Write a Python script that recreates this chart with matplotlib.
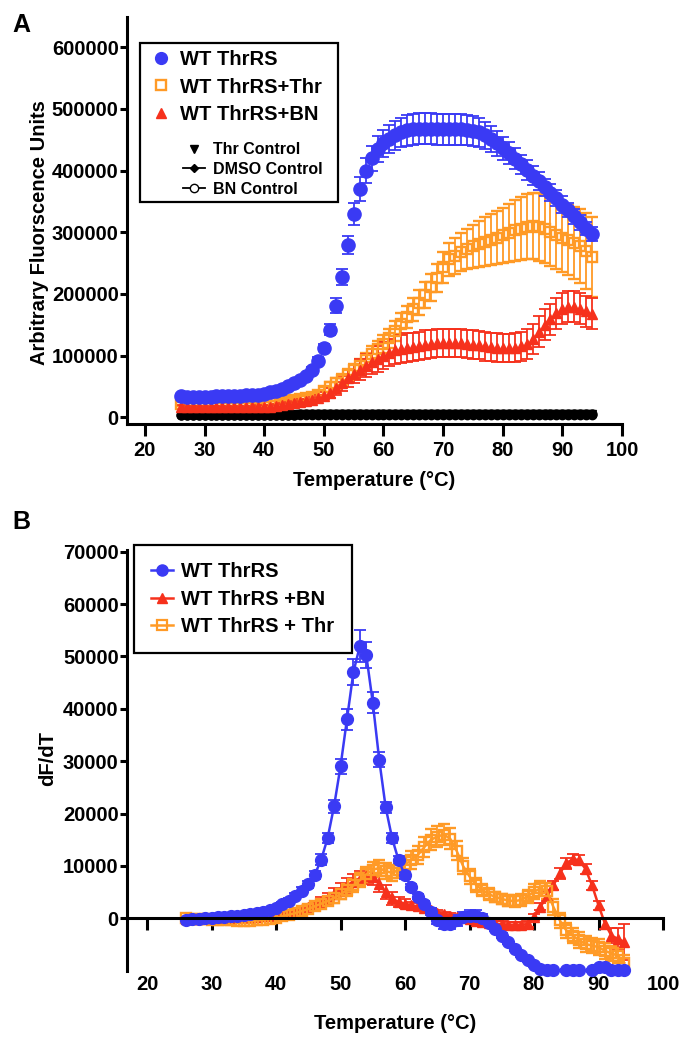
import numpy as np
import matplotlib
matplotlib.use("Agg")
import matplotlib.pyplot as plt
from matplotlib.lines import Line2D
from matplotlib.patches import Rectangle
from matplotlib.ticker import FormatStrFormatter

plt.rcParams['font.family'] = ['Liberation Sans', 'DejaVu Sans']
plt.rcParams['font.weight'] = 'bold'
plt.rcParams['axes.labelweight'] = 'bold'

BLUE = '#3a3af4'
ORANGE = '#ff9a26'
RED = '#f6311c'
nan = np.nan

# ---------------- panel A : raw fluorescence, 26..95 C ----------------
temp_a = np.arange(26, 96)

wt_a = [34000, 33500, 33500, 33500, 33500, 33500, 33800, 34000, 34000, 34500,
        35000, 35500, 36000, 37000, 38500, 40500, 43000, 46000, 50000, 55000,
        61000, 67000, 77000, 92000, 113000, 142000, 181000, 228000, 279000, 329000,
        370000, 400000, 420000, 435000, 444000, 451000, 457000, 462000, 465000, 467000,
        468000, 468000, 468000, 467000, 467000, 467000, 467000, 467000, 466000, 464000,
        462000, 457000, 451000, 444000, 436000, 428000, 419000, 410000, 401000, 392000,
        383000, 373000, 364000, 355000, 345000, 336000, 326000, 316000, 306000, 297000]
wt_a_err = [1500, 1500, 1500, 1500, 1500, 1500, 1500, 1500, 1500, 1500,
            1500, 1500, 1500, 1500, 1500, 1500, 2000, 2000, 2000, 2500,
            2500, 3000, 4000, 5000, 6000, 9000, 12000, 13000, 15000, 18000,
            20000, 20000, 20000, 21000, 22000, 23000, 24000, 24000, 25000, 25000,
            25000, 25000, 25000, 25000, 25000, 25000, 25000, 25000, 24000, 24000,
            23000, 22000, 21000, 20000, 19000, 18000, 17000, 16000, 16000, 15000,
            15000, 14000, 14000, 13000, 13000, 12000, 12000, 12000, 11000, 11000]

thr_a = [21500, 20000, 20000, 20000, 20000, 20000, 20000, 20000, 20000, 20000,
         20000, 20000, 20500, 21000, 22000, 23000, 24000, 25500, 27000, 28500,
         30000, 31500, 33000, 37000, 42000, 48500, 55000, 61000, 68000, 76000,
         84000, 93000, 102000, 110000, 119000, 128000, 140000, 152000, 163000, 175000,
         186000, 198000, 211000, 226000, 243000, 256000, 262000, 268000, 273000, 277000,
         281000, 285000, 288000, 291000, 295000, 299000, 303000, 306000, 309000, 310000,
         309000, 305000, 300000, 296000, 291000, 287000, 283000, 277000, 270000, 260000]
thr_a_err = [3000, 3000, 3000, 3000, 3000, 3000, 3000, 3000, 3000, 3000,
             3000, 3000, 3000, 3000, 3000, 3000, 3000, 3000, 3000, 3500,
             4000, 4500, 5000, 6000, 7000, 8000, 9000, 10000, 10000, 10000,
             11000, 12000, 13000, 14000, 14000, 15000, 16000, 17000, 18000, 19000,
             20000, 21000, 22000, 23000, 25000, 27000, 29000, 31000, 33000, 35000,
             37000, 39000, 41000, 43000, 45000, 47000, 49000, 51000, 53000, 54000,
             55000, 55000, 55000, 56000, 56000, 57000, 58000, 60000, 62000, 65000]

bn_a = [17000, 16000, 16000, 16000, 16000, 16000, 16000, 16000, 16000, 16000,
        16000, 16000, 16000, 16500, 17000, 17500, 18500, 20000, 21500, 23000,
        24500, 26000, 28000, 31000, 35000, 40000, 47000, 55000, 63000, 70000,
        77000, 84000, 90000, 95000, 100000, 105000, 109000, 111000, 113000, 114000,
        116000, 118000, 119000, 120000, 121000, 121000, 121000, 120000, 119000, 118000,
        117000, 115000, 114000, 113000, 112000, 112000, 113000, 115000, 119000, 127000,
        139000, 150000, 159000, 169000, 176000, 179000, 179000, 176000, 172000, 168000]
bn_a_err = [3000, 3000, 3000, 3000, 3000, 3000, 3000, 3000, 3000, 3000,
            3000, 3000, 3000, 3000, 3000, 3000, 3500, 3500, 4000, 4000,
            4500, 4500, 5000, 5000, 5500, 8000, 10000, 12000, 14000, 15000,
            17000, 19000, 20000, 21000, 22000, 22000, 23000, 23000, 23000, 23000,
            23000, 23000, 23000, 23000, 23000, 23000, 23000, 23000, 23000, 23000,
            23000, 23000, 23000, 23000, 23000, 23000, 23000, 24000, 24000, 24000,
            25000, 25000, 25000, 25000, 25000, 25000, 25000, 25000, 25000, 25000]

thr_ctrl = [4000, 4000, 4000, 4000, 4000, 4000, 4000, 4000, 4000, 4000,
            4000, 4000, 4000, 4000, 4000, 4200, 4400, 4600, 4800, 5000,
            5200, 5300, 5400, 5500, 5500, 5500, 5500, 5500, 5500, 5500,
            5500, 5500, 5500, 5500, 5500, 5500, 5500, 5500, 5500, 5500,
            5500, 5500, 5500, 5500, 5500, 5500, 5500, 5500, 5500, 5500,
            5500, 5500, 5500, 5500, 5500, 5500, 5500, 5500, 5500, 5500,
            5500, 5500, 5500, 5500, 5500, 5500, 5500, 5500, 5500, 5500]
dmso_ctrl = [3500, 3500, 3500, 3500, 3500, 3500, 3500, 3500, 3500, 3500,
             3500, 3500, 3500, 3500, 3500, 3700, 3900, 4100, 4300, 4500,
             4700, 4800, 4900, 5000, 5000, 5000, 5000, 5000, 5000, 5000,
             5000, 5000, 5000, 5000, 5000, 5000, 5000, 5000, 5000, 5000,
             5000, 5000, 5000, 5000, 5000, 5000, 5000, 5000, 5000, 5000,
             5000, 5000, 5000, 5000, 5000, 5000, 5000, 5000, 5000, 5000,
             5000, 5000, 5000, 5000, 5000, 5000, 5000, 5000, 5000, 5000]
bn_ctrl = [3000, 3000, 3000, 3000, 3000, 3000, 3000, 3000, 3000, 3000,
           3000, 3000, 3000, 3000, 3000, 3200, 3400, 3600, 3800, 4000,
           4200, 4300, 4400, 4500, 4500, 4500, 4500, 4500, 4500, 4500,
           4500, 4500, 4500, 4500, 4500, 4500, 4500, 4500, 4500, 4500,
           4500, 4500, 4500, 4500, 4500, 4500, 4500, 4500, 4500, 4500,
           4500, 4500, 4500, 4500, 4500, 4500, 4500, 4500, 4500, 4500,
           4500, 4500, 4500, 4500, 4500, 4500, 4500, 4500, 4500, 4500]

# ---------------- panel B : first derivative, 26..94 C ----------------
temp_b = np.arange(26, 95)

wt_b = [-300, -200, -100, 0, 100, 200, 300, 400, 500, 600,
        800, 1000, 1300, 1600, 2000, 2700, 3300, 4300, 5300, 6500,
        8300, 11200, 15300, 21400, 29000, 38000, 47000, 52000, 50200, 41200,
        30300, 21200, 15300, 11100, 8200, 6000, 4100, 2800, 1300, -300,
        -1100, -1000, -400, 200, 500, 500, 100, -900, -2000, -3300,
        -4500, -5800, -7000, -8000, -9000, -9600, -9950, -9950, nan, -9950,
        -9950, -9950, nan, -9900, -9200, -9300, -9800, -9950, -9950]
wt_b_err = [300, 300, 300, 300, 300, 300, 300, 300, 300, 300,
            300, 300, 300, 300, 400, 400, 500, 500, 600, 700,
            800, 1000, 1000, 1200, 1500, 2000, 2500, 3000, 2500, 2000,
            1500, 1000, 1000, 800, 600, 500, 500, 500, 600, 800,
            1000, 1000, 1000, 1000, 1000, 1000, 800, 600, 500, 500,
            400, 400, 300, 300, 300, 300, 300, 300, 0, 300,
            300, 300, 0, 300, 300, 300, 300, 300, 300]

bn_b = [-200, -200, -100, 0, 0, 0, 100, 100, 200, 200,
        300, 300, 400, 500, 600, 800, 1000, 1300, 1700, 2100,
        2600, 3200, 3900, 4700, 5500, 6300, 7000, 7600, 8000, 7900,
        6500, 5000, 3800, 3100, 2800, 2500, 2300, 1900, 1500, 1100,
        800, 500, 200, 0, -200, -500, -700, -900, -1000, -1100,
        -1200, -1200, -1200, -1100, 200, 2200, 4200, 6300, 8600, 10500,
        11300, 11100, 9400, 6300, 2500, -1000, -3300, -3900, -4500]
bn_b_err = [300, 300, 300, 300, 300, 300, 300, 300, 300, 300,
            300, 300, 300, 300, 400, 400, 500, 500, 600, 700,
            800, 900, 1000, 1100, 1300, 1400, 1500, 1500, 1500, 1500,
            1500, 1400, 1200, 1000, 800, 700, 600, 500, 500, 500,
            500, 500, 500, 500, 500, 500, 500, 500, 500, 500,
            500, 500, 500, 500, 600, 700, 800, 900, 1000, 1000,
            1000, 1000, 1000, 900, 900, 1000, 1500, 2000, 3500]

thr_b = [0, -100, -200, -200, -300, -300, -400, -400, -500, -500,
         -500, -400, -300, -100, 100, 400, 700, 1000, 1400, 1800,
         2300, 2800, 3300, 3900, 4600, 5400, 6300, 7300, 8400, 9300,
         9600, 9000, 8700, 9200, 10200, 11200, 12100, 13600, 15000, 15600,
         16000, 15200, 12900, 10000, 8000, 6400, 5400, 4600, 4100, 3700,
         3400, 3300, 3500, 4200, 5100, 5700, 5200, 2200, -400, -2300,
         -3300, -4200, -4900, -5200, -5500, -6200, -6700, -7100, -8500]
thr_b_err = [300, 300, 300, 300, 300, 300, 300, 300, 300, 300,
             300, 300, 300, 300, 300, 400, 400, 500, 500, 600,
             600, 700, 800, 900, 1000, 1100, 1200, 1300, 1400, 1500,
             1500, 1500, 1500, 1500, 1600, 1700, 1800, 1900, 2000, 2000,
             2000, 2000, 1800, 1600, 1400, 1300, 1200, 1100, 1000, 1000,
             1000, 1100, 1200, 1300, 1400, 1500, 1500, 1500, 1500, 1500,
             1500, 1500, 1500, 1500, 1500, 1500, 1500, 1500, 1500]

fig = plt.figure(figsize=(6.91, 10.41), dpi=100)
axA = fig.add_axes([0.1838, 0.5927, 0.7164, 0.3913])
axB = fig.add_axes([0.1838, 0.0675, 0.7757, 0.4041])

for ax in (axA, axB):
    ax.spines['top'].set_visible(False)
    ax.spines['right'].set_visible(False)
    ax.spines['left'].set_linewidth(2.2)
    ax.spines['bottom'].set_linewidth(2.2)
    ax.tick_params(axis='both', direction='out', width=2.2, labelsize=14.5)
    ax.tick_params(axis='y', length=5, pad=1)
    ax.yaxis.set_major_formatter(FormatStrFormatter('%d'))

ebkw = dict(elinewidth=1.3, capsize=4.5, capthick=1.3)

# ---- panel A ----
axA.errorbar(temp_a, thr_a, yerr=thr_a_err, fmt='s', ms=7.5, mfc='none', mec=ORANGE,
             mew=1.7, ecolor=ORANGE, **ebkw)
axA.errorbar(temp_a, bn_a, yerr=bn_a_err, fmt='^', ms=7.5, color=RED, ecolor=RED, **ebkw)
axA.errorbar(temp_a, wt_a, yerr=wt_a_err, fmt='o', ms=9.5, color=BLUE, ecolor=BLUE, **ebkw)
axA.plot(temp_a, bn_ctrl, '-o', color='black', mfc='white', ms=6, lw=1)
axA.plot(temp_a, thr_ctrl, 'v', color='black', ms=6)
axA.plot(temp_a, dmso_ctrl, '-o', color='black', ms=6.5, lw=1)

axA.set_xlim(17, 100)
axA.set_ylim(-10800, 649500)
axA.set_xticks(range(20, 101, 10))
axA.set_yticks(range(0, 600001, 100000))
axA.tick_params(axis='x', length=8.5, pad=4)
axA.set_xlabel('Temperature (°C)', fontsize=14.5)
axA.xaxis.set_label_coords(0.5, -0.115)
axA.set_ylabel('Arbitrary Fluorscence Units', fontsize=14.5)
axA.yaxis.set_label_coords(-0.158, 0.47)

axA.add_patch(Rectangle((0.0263, 0.5458), 0.40, 0.3902, transform=axA.transAxes,
                        fill=False, edgecolor='black', lw=1.6, clip_on=False, zorder=5))
h1 = [Line2D([], [], ls='none', marker='o', color=BLUE, ms=8.5),
      Line2D([], [], ls='none', marker='s', mfc='none', mec=ORANGE, mew=1.7, ms=7),
      Line2D([], [], ls='none', marker='^', color=RED, ms=7)]
leg1 = axA.legend(h1, ['WT ThrRS', 'WT ThrRS+Thr', 'WT ThrRS+BN'], loc='upper left',
                  bbox_to_anchor=(0.0485, 0.918), frameon=False, fontsize=14.5,
                  handlelength=1.0, handletextpad=0.45, labelspacing=0.42,
                  borderpad=0, borderaxespad=0)
axA.add_artist(leg1)
h2 = [Line2D([], [], ls='none', marker='v', color='black', ms=6),
      Line2D([], [], ls='-', marker='D', color='black', ms=4, lw=1.3),
      Line2D([], [], ls='-', marker='o', color='black', mfc='white', ms=6, lw=1.3)]
axA.legend(h2, ['Thr Control', 'DMSO Control', 'BN Control'], loc='upper left',
           bbox_to_anchor=(0.113, 0.692), frameon=False, fontsize=11.5,
           handlelength=1.4, handletextpad=0.5, labelspacing=0.3,
           borderpad=0, borderaxespad=0)

# ---- panel B ----
bkw = dict(clip_on=False, lw=1.8, **ebkw)
axB.errorbar(temp_b, bn_b, yerr=bn_b_err, fmt='-^', ms=7.5, color=RED, ecolor=RED, **bkw)
axB.errorbar(temp_b, thr_b, yerr=thr_b_err, fmt='-s', ms=7.5, color=ORANGE, mfc='none',
             mew=1.7, ecolor=ORANGE, **bkw)
axB.errorbar(temp_b, wt_b, yerr=wt_b_err, fmt='-o', ms=8.5, color=BLUE, ecolor=BLUE, **bkw)

axB.set_xlim(16.9, 100)
axB.set_ylim(-10000, 70300)
axB.set_xticks(range(20, 101, 10))
axB.set_yticks(range(0, 70001, 10000))
axB.spines['bottom'].set_position(('data', 0))
axB.tick_params(axis='x', length=8.5, pad=32)
axB.set_xlabel('Temperature (°C)', fontsize=14.5)
axB.xaxis.set_label_coords(0.5, -0.102)
axB.set_ylabel('dF/dT', fontsize=14.5)
axB.yaxis.set_label_coords(-0.13, 0.505)

hb = [Line2D([], [], ls='-', marker='o', color=BLUE, ms=8, lw=1.8),
      Line2D([], [], ls='-', marker='^', color=RED, ms=7, lw=1.8),
      Line2D([], [], ls='-', marker='s', color=ORANGE, mfc='none', mew=1.6, ms=7, lw=1.8)]
legB = axB.legend(hb, ['WT ThrRS', 'WT ThrRS +BN', 'WT ThrRS + Thr'], loc='upper left',
                  bbox_to_anchor=(0.013, 1.012), fontsize=14.5, fancybox=False,
                  framealpha=1, edgecolor='black', handlelength=1.1, handletextpad=0.4,
                  labelspacing=0.42, borderpad=0.85, borderaxespad=0)
legB.get_frame().set_linewidth(1.6)

fig.text(0.031, 1 - 25 / 1041, 'A', fontsize=18, fontweight='bold', va='center', ha='center')
fig.text(0.031, 1 - 522 / 1041, 'B', fontsize=18, fontweight='bold', va='center', ha='center')

fig.savefig('out.png', dpi=100)
